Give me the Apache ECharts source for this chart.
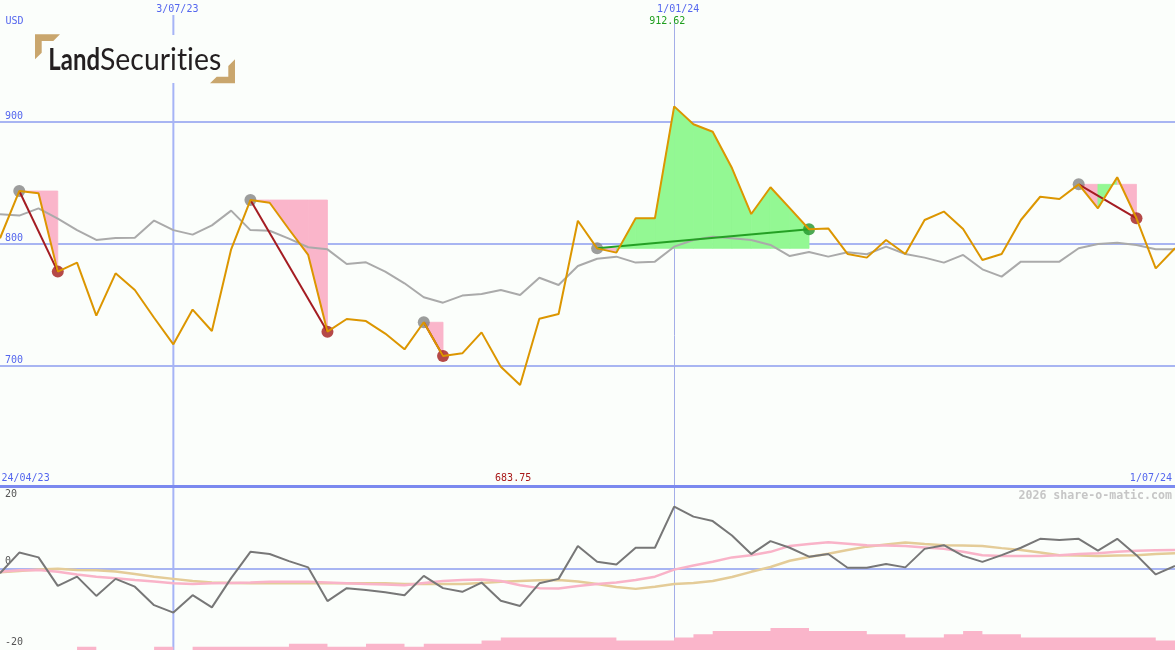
<!DOCTYPE html>
<html><head><meta charset="utf-8">
<script src="https://cdn.jsdelivr.net/npm/echarts@6/dist/echarts.min.js"></script>
<style>html,body{margin:0;padding:0;background:#fbfefb;} #c{width:1175px;height:650px;} #c canvas{font-variant-ligatures:none;text-rendering:optimizeSpeed;}</style>
</head><body><div id="c"></div>
<script>
// ---------- DATA ----------
const dates = ['1/05/23','8/05/23','15/05/23','22/05/23','29/05/23','5/06/23','12/06/23','19/06/23','26/06/23','3/07/23',
'10/07/23','17/07/23','24/07/23','31/07/23','7/08/23','14/08/23','21/08/23','28/08/23','4/09/23','11/09/23',
'18/09/23','25/09/23','2/10/23','9/10/23','16/10/23','23/10/23','30/10/23','6/11/23','13/11/23','20/11/23',
'27/11/23','4/12/23','11/12/23','18/12/23','25/12/23','1/01/24','8/01/24','15/01/24','22/01/24','29/01/24',
'5/02/24','12/02/24','19/02/24','26/02/24','4/03/24','11/03/24','18/03/24','25/03/24','1/04/24','8/04/24',
'15/04/24','22/04/24','29/04/24','6/05/24','13/05/24','20/05/24','27/05/24','3/06/24','10/06/24','17/06/24',
'24/06/24','1/07/24'];
const price = [804.3,843.1,841.2,776.9,784.3,740.7,775.5,761.8,739,717.2,
745.7,728.1,795.2,835.7,833.5,811.7,790.6,727.6,738,736.3,
726,713.1,735.3,707.6,709.8,727,698.8,683.75,738.2,742.1,
818.7,796,792.5,820.7,820.7,912.62,897.9,891.8,862,824.2,
846.2,829,811.7,812.4,791.4,788.4,802.9,791.4,819.3,826.2,
811.9,786.4,791.4,819.3,838.4,836.6,848.6,828.9,854.4,820.7,
779.6,796.1];
const movingAvg = [824,822.9,828.9,820.4,811,802.9,804.5,804.8,818.8,811,
807.3,814.9,827,811,810.5,804,796.9,795.2,783.2,784.5,
776.9,767.3,755.8,751.4,757.2,758.5,761.8,757.7,771.9,765.9,
781.5,787.5,789.2,784.3,785.1,797.4,802.9,805.6,804.3,802.9,
798.8,789.7,793,789.2,792.8,791.2,797.4,791.4,788.4,784.3,
790.6,778.8,772.8,785.1,785.1,785.1,796.1,799.6,800.7,798.8,
795.2,795.2];
const momentum = [-1.3,4.3,3.0,-4.7,-2.2,-7.4,-2.8,-4.9,-9.9,-11.9,
-7.2,-10.5,-2.6,4.5,3.9,2.0,0.3,-8.8,-5.3,-5.8,
-6.4,-7.2,-2.0,-5.3,-6.3,-3.8,-8.7,-10.1,-4.0,-2.8,
6.1,1.8,1.1,5.6,5.6,16.7,14.0,12.8,8.9,3.9,
7.4,5.6,3.2,3.9,0.2,0.2,1.2,0.3,5.3,6.3,
3.4,1.8,3.6,5.6,8.0,7.7,8.0,4.8,8.0,3.6,
-1.6,0.7];
const momentumAvgA = [-0.9,-0.5,-0.4,-0.9,-1.6,-2.2,-2.6,-3.1,-3.5,-4.0,
-4.2,-4.0,-3.9,-3.8,-3.6,-3.6,-3.6,-3.8,-4.0,-4.2,
-4.3,-4.5,-3.9,-3.4,-3.1,-3.0,-3.4,-4.5,-5.3,-5.4,
-4.7,-4.2,-3.8,-3.1,-2.2,-0.3,0.8,1.8,3.0,3.6,
4.5,6.1,6.6,7.1,6.7,6.3,6.2,6.1,5.7,5.3,
4.5,3.6,3.4,3.4,3.4,3.6,3.9,4.1,4.5,4.8,
4.9,5.0];
const momentumAvgB = [-1.0,-0.7,-0.3,-0.1,-0.4,-0.5,-0.8,-1.5,-2.2,-2.8,
-3.4,-3.8,-3.9,-4.0,-4.0,-4.0,-4.0,-4.0,-4.0,-4.0,
-4.0,-4.2,-4.2,-4.2,-4.2,-3.9,-3.6,-3.4,-3.2,-3.1,
-3.5,-4.2,-5.0,-5.5,-4.9,-4.2,-3.9,-3.4,-2.3,-0.9,
0.4,2.1,3.1,4.0,5.0,5.9,6.5,7.0,6.6,6.3,
6.2,6.1,5.5,5.0,4.3,3.6,3.5,3.4,3.5,3.6,
3.9,4.1];
const volume = [0,0,0,0,1,0,0,0,1,0,
1,1,1,1,1,2,2,1,1,2,
2,1,2,2,2,3,4,4,4,4,
4,4,3,3,3,4,5,6,6,6,
7,7,6,6,6,5,5,4,4,5,
6,5,5,4,4,4,4,4,4,4,
3,3];
// signal runs: [start index, end index]
const signals = [[1,3],[13,17],[22,23],[31,42],[56,59]];
const markedDates = ['3/07/23','1/01/24'];
const rangeLabels = ['24/04/23','1/07/24'];
const currencyLabel = 'USD';
const watermark = '2026 share-o-matic.com';
const logoWords = ['Land','Securities'];

// ---------- STYLE ----------
const BG = '#fbfefb';
const MONO = '"DejaVu Sans Mono", monospace';
const BLUE_TXT = '#5466ee';
const GRID_LINE = '#a8b5f2';
const PINK = '#fab5ca';
const GREEN_FILL = '#93f893';

const chart = echarts.init(document.getElementById('c'), null, {renderer:'canvas'});

const fillData = [];
signals.forEach(([a,b]) => { for (let k=a;k<b;k++) fillData.push([k, k+1, price[a]]); });

const series = [];
series.push({
  type:'custom', xAxisIndex:0, yAxisIndex:0, data:fillData, z:1, silent:true, clip:false,
  encode:{x:[0,1], y:2},
  renderItem(params, api){
    const k0 = api.value(0), k1 = api.value(1), s = api.value(2);
    const pts = [api.coord([k0,s]), api.coord([k0,price[k0]]), api.coord([k1,price[k1]]), api.coord([k1,s])];
    const c = price[k1] >= s ? GREEN_FILL : PINK;
    return {type:'polygon', shape:{points:pts}, style:{fill:c, stroke:c, lineWidth:0.8}};
  }
});
series.push({type:'line', xAxisIndex:0, yAxisIndex:0, data:movingAvg, symbol:'none', z:3,
  lineStyle:{color:'#aaaaaa', width:2}, silent:true});
series.push({type:'scatter', xAxisIndex:0, yAxisIndex:0, z:4, silent:true, symbolSize:12,
  data: signals.map(([a]) => [a, price[a]]), itemStyle:{color:'#848484'}});
series.push({type:'scatter', xAxisIndex:0, yAxisIndex:0, z:4, silent:true, symbolSize:12,
  data: signals.map(([a,b]) => ({value:[b, price[b]], itemStyle:{color: price[b] >= price[a] ? '#22932a' : '#a41c1c'}}))});
signals.forEach(([a,b]) => {
  series.push({type:'line', xAxisIndex:0, yAxisIndex:0, z:5, silent:true, symbol:'none',
    data:[[a, price[a]],[b, price[b]]],
    lineStyle:{color: price[b] >= price[a] ? '#24a024' : '#a41c22', width:2}});
});
series.push({type:'line', xAxisIndex:0, yAxisIndex:0, data:price, symbol:'none', z:6,
  lineStyle:{color:'#dc9600', width:2}, silent:true});
// lower panel
series.push({type:'line', xAxisIndex:1, yAxisIndex:1, data:momentumAvgB, symbol:'none', z:3,
  lineStyle:{color:'#e4cc98', width:2.5}, silent:true});
series.push({type:'line', xAxisIndex:1, yAxisIndex:1, data:momentumAvgA, symbol:'none', z:3,
  lineStyle:{color:'#f9b3c8', width:2.5}, silent:true});
series.push({type:'line', xAxisIndex:1, yAxisIndex:1, data:momentum, symbol:'none', z:4,
  lineStyle:{color:'#777777', width:2}, silent:true});
series.push({type:'line', xAxisIndex:2, yAxisIndex:2, data:volume, symbol:'none', step:'end', z:5,
  lineStyle:{width:0, color:PINK}, areaStyle:{color:PINK, opacity:1}, silent:true});

const hiddenX = (gi) => ({type:'category', gridIndex:gi, data:dates, boundaryGap:false, show:false});

chart.setOption({
  backgroundColor: BG,
  animation:false,
  grid:[
    {left:0, right:0, top:0, height:487, containLabel:false, outerBoundsMode:'none'},
    {left:0, right:0, top:494.4, height:148.2, containLabel:false, outerBoundsMode:'none'},
    {left:0, right:0, top:587, height:63, containLabel:false, outerBoundsMode:'none'}
  ],
  xAxis:[
    {type:'category', gridIndex:0, data:dates, boundaryGap:false, position:'top',
     axisLine:{show:false}, axisTick:{show:false}, splitLine:{show:false},
     axisLabel:{inside:true, margin:4, color:BLUE_TXT, fontFamily:MONO, fontSize:10,
       padding:[0,0,0,8], hideOverlap:false,
       interval:(i, v) => markedDates.indexOf(v) >= 0}},
    hiddenX(1), hiddenX(2)
  ],
  yAxis:[
    {type:'value', gridIndex:0, min:600, max:1000, interval:100,
     axisLine:{show:false}, axisTick:{show:false},
     axisLabel:{inside:true, margin:5, color:BLUE_TXT, fontFamily:MONO, fontSize:10,
       verticalAlign:'bottom', showMinLabel:false, showMaxLabel:false},
     splitLine:{show:true, showMinLine:false, showMaxLine:false, lineStyle:{color:GRID_LINE, width:2}}},
    {type:'value', gridIndex:1, min:-20, max:20, interval:20,
     axisLine:{show:false}, axisTick:{show:false},
     axisLabel:{inside:true, margin:5, color:'#555555', fontFamily:MONO, fontSize:10, verticalAlign:'middle',
       formatter:(v) => v === 0 ? '{z|0}' : String(v), rich:{z:{padding:[0,0,15,0]}}},
     splitLine:{show:true, showMinLine:false, showMaxLine:false, lineStyle:{color:GRID_LINE, width:2}}},
    {type:'value', gridIndex:2, min:0, max:20, show:false, splitLine:{show:false}}
  ],
  series
});

function buildGraphics(){
  const px = (name) => chart.convertToPixel({xAxisIndex:0}, name);
  const iMax = price.indexOf(Math.max(...price));
  const iMin = price.indexOf(Math.min(...price));
  const els = [];
  // vertical date lines
  const x1 = px(markedDates[0]);
  els.push({type:'line', z:0, silent:true, shape:{x1:x1, y1:15, x2:x1, y2:650}, style:{stroke:'#a6b4f6', lineWidth:2}});
  const x2 = Math.round(px(markedDates[1])) + 0.5;
  els.push({type:'line', z:0, silent:true, shape:{x1:x2, y1:21, x2:x2, y2:650}, style:{stroke:'#a4aee8', lineWidth:1}});
  // separator
  els.push({type:'rect', z:10, silent:true, shape:{x:0, y:485, width:1175, height:3}, style:{fill:'#7b89ef'}});
  // texts
  els.push({type:'text', z:10, silent:true, x:5.5, y:21, style:{text:currencyLabel, font:'10px '+MONO, fill:BLUE_TXT, textVerticalAlign:'middle'}});
  els.push({type:'text', z:10, silent:true, x:px(dates[iMax]) - 25, y:21, style:{text:price[iMax].toFixed(2), font:'10px '+MONO, fill:'#1e9e1e', textVerticalAlign:'middle'}});
  els.push({type:'text', z:10, silent:true, x:px(dates[iMin]) - 25, y:478.5, style:{text:price[iMin].toFixed(2), font:'10px '+MONO, fill:'#a81818', textVerticalAlign:'middle'}});
  els.push({type:'text', z:10, silent:true, x:1.5, y:478.5, style:{text:rangeLabels[0], font:'10px '+MONO, fill:BLUE_TXT, textVerticalAlign:'middle'}});
  els.push({type:'text', z:10, silent:true, x:1172, y:478.5, style:{text:rangeLabels[1], font:'10px '+MONO, fill:BLUE_TXT, textAlign:'right', textVerticalAlign:'middle'}});
  els.push({type:'text', z:10, silent:true, x:1172, y:496, style:{text:watermark, font:'bold 11.6px '+MONO, fill:'#c6c6c6', textAlign:'right', textVerticalAlign:'middle'}});
  // logo
  const ctx = document.createElement('canvas').getContext('2d');
  const f1 = 'bold 31px Lato', f2 = '31px Lato';
  ctx.font = f1; const w1 = ctx.measureText(logoWords[0]).width;
  ctx.font = f2; const w2 = ctx.measureText(logoWords[1]).width;
  const s1 = 51.7 / w1, s2 = 121.7 / w2;
  els.push({type:'rect', z:20, silent:true, shape:{x:33, y:35, width:205, height:48}, style:{fill:BG}});
  els.push({type:'polygon', z:21, silent:true, shape:{points:[[35,34.3],[60,34.3],[53.3,41],[41.7,41],[41.7,52.7],[35,59.3]]}, style:{fill:'#c9a66d'}});
  els.push({type:'polygon', z:21, silent:true, shape:{points:[[235,59.3],[235,83.3],[210,83.3],[216.7,76.7],[228.3,76.7],[228.3,66]]}, style:{fill:'#c9a66d'}});
  els.push({type:'text', z:22, silent:true, x:48.3, y:59.5, scaleX:s1, style:{text:logoWords[0], font:f1, fill:'#231f20', textVerticalAlign:'middle'}});
  els.push({type:'text', z:22, silent:true, x:48.3 + 51.7, y:59.5, scaleX:s2, style:{text:logoWords[1], font:f2, fill:'#231f20', textVerticalAlign:'middle'}});
  chart.setOption({graphic:{elements:els}}, {replaceMerge:['graphic']});
}
buildGraphics();
if (document.fonts && document.fonts.ready) document.fonts.ready.then(buildGraphics);
</script>
</body></html>
